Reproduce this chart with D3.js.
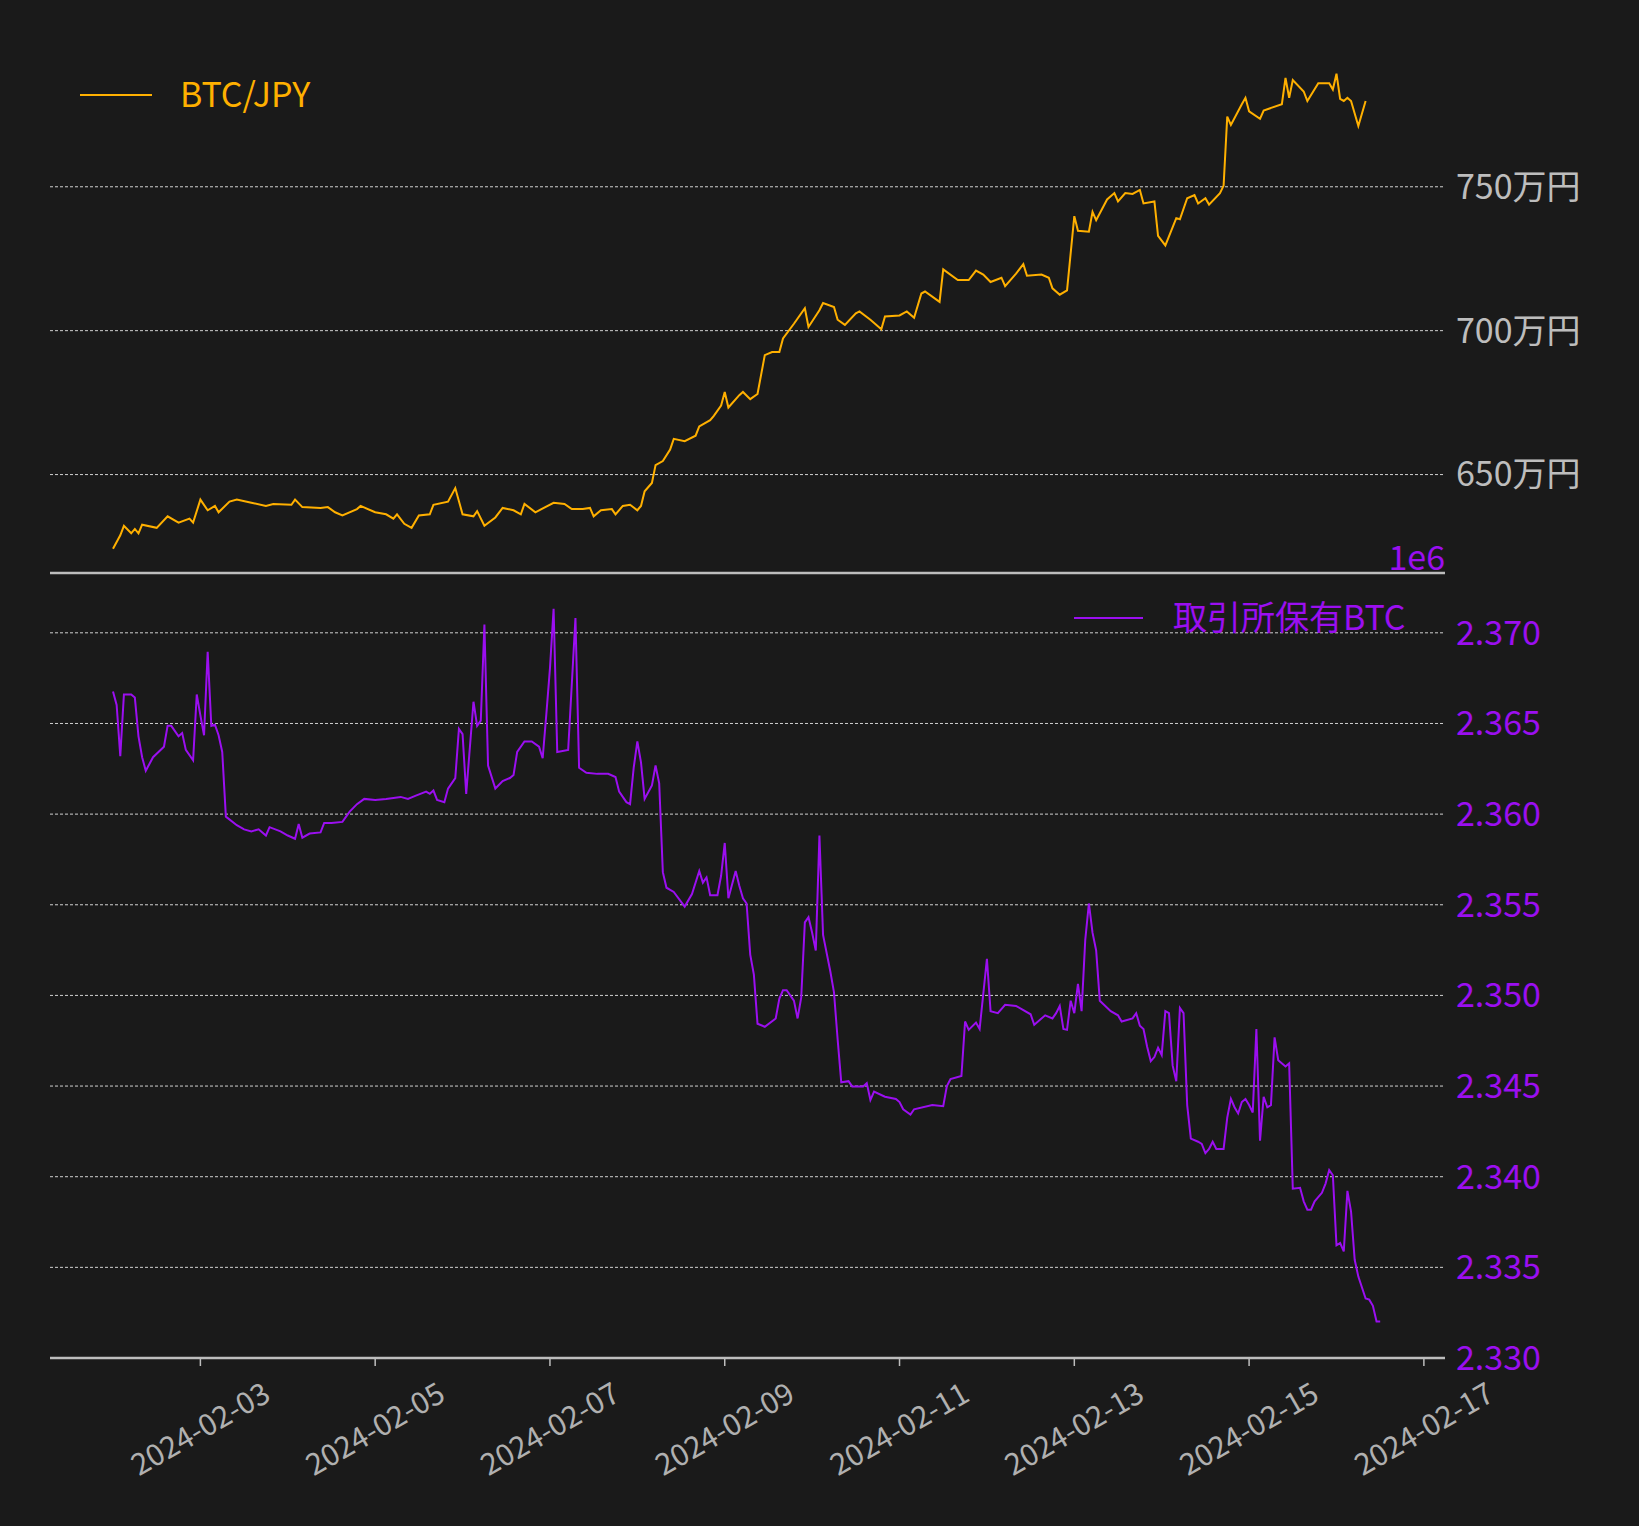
<!DOCTYPE html>
<html><head><meta charset="utf-8">
<script src="https://cdn.jsdelivr.net/npm/d3@7"></script>
<style>body{margin:0;background:#1a1a1a}</style>
</head><body>
<svg id="chart"></svg>
<script>
// hours since 2024-02-02 00:00 and values
const priceHours = [0,2,3,5,6,7,8,12,15,18,21,22,24,26,28,29,32,34,38,42,44,49,50,52,57,59,61,63,67,68,72,75,77,78,80,82,84,87,88,92,94,96,99,100,102,105,107,110,112,113,116,121,124,126,129,131,132,134,137,138,140,142,144,145,146,148,149,151,153,154,157,160,161,164,165,167,168,169,172,173,175,177,179,181,183,184,187,190,191,194,195,198,199,201,204,205,208,211,212,216,218,220,222,223,227,228,232,235,237,239,241,244,245,248,250,251,255,257,258,260,262,264,265,268,269,270,273,275,276,278,280,282,283,286,287,289,292,293,295,297,298,300,301,304,305,306,307,310,311,312,315,316,321,322,323,324,327,328,331,334,335,336,337,338,339,340,342,344];
const priceMan = [624.2,628.9,632.2,629.6,631.1,629.6,632.6,631.5,635.5,633.3,634.7,633.3,641.3,637.6,639.1,636.9,640.6,641.3,640.2,639.1,639.8,639.5,641.3,638.7,638.4,638.7,636.9,635.8,638.0,639.1,636.9,636.2,634.7,636.2,632.9,631.5,635.8,636.2,639.5,640.6,645.3,636.2,635.5,637.3,632.2,635.1,638.4,637.6,636.2,639.8,636.9,640.2,639.8,638.0,638.0,638.4,635.5,637.6,638.0,636.2,639.1,639.5,637.6,639.1,644.2,647.1,653.3,654.7,658.7,662.4,661.6,663.5,666.7,668.9,670.4,674.0,678.7,673.3,677.6,678.7,676.2,678.0,691.5,692.6,692.6,697.3,702.4,707.8,701.3,707.1,709.6,708.2,703.8,702.0,706.0,706.7,703.8,700.5,704.9,705.3,706.7,704.5,712.9,713.6,710.0,721.3,717.6,717.6,720.9,719.5,716.9,718.4,715.5,719.8,723.1,719.1,719.5,718.4,714.7,712.5,714.0,739.8,734.7,734.4,741.3,738.4,745.6,747.8,744.9,747.8,747.5,748.9,744.2,744.9,732.9,729.6,739.1,738.7,746.0,747.1,744.2,746.0,743.8,747.8,750.4,774.4,771.5,778.7,780.9,776.2,773.6,776.5,778.7,787.8,780.9,787.1,783.1,779.8,786.0,786.0,783.8,789.3,780.5,779.8,780.9,779.8,771.1,779.8];

const holdHours = [0,1,2,3,5,6,7,8,9,11,14,15,16,18,19,20,22,23,24,25,26,27,28,29,30,31,34,36,38,40,42,43,46,48,50,51,52,54,57,58,60,63,65,67,69,72,75,79,81,83,86,87,88,89,91,92,94,95,96,97,98,99,100,101,102,103,105,107,109,110,111,113,115,117,118,119,120,121,122,125,127,128,130,133,136,138,139,141,142,143,144,145,146,148,149,150,151,152,154,157,159,161,162,163,164,166,167,168,169,171,172,173,174,175,176,177,179,182,183,184,185,187,188,189,190,191,192,193,194,195,197,198,199,200,202,203,206,207,208,209,212,215,216,217,219,220,225,228,229,230,233,234,235,237,238,240,241,243,245,248,252,253,256,258,259,260,261,262,263,264,265,266,267,268,269,270,271,274,276,277,280,281,282,283,284,285,286,287,288,289,290,291,292,293,294,295,296,298,299,300,301,302,303,305,306,307,308,309,310,311,312,313,314,315,316,317,318,319,320,322,323,324,326,327,328,329,330,332,333,334,335,336,337,338,339,340,341,342,344,345,346,347,348];
const holdBtc = [2.36677,2.36602,2.36320,2.36660,2.36660,2.36643,2.36429,2.36314,2.36239,2.36314,2.36372,2.36487,2.36487,2.36429,2.36447,2.36354,2.36297,2.36660,2.36545,2.36435,2.36896,2.36487,2.36493,2.36435,2.36343,2.35986,2.35939,2.35916,2.35905,2.35916,2.35882,2.35928,2.35905,2.35882,2.35864,2.35945,2.35870,2.35893,2.35899,2.35951,2.35951,2.35957,2.36014,2.36055,2.36084,2.36078,2.36084,2.36095,2.36084,2.36101,2.36124,2.36112,2.36130,2.36078,2.36066,2.36141,2.36199,2.36470,2.36441,2.36112,2.36366,2.36620,2.36487,2.36516,2.37046,2.36268,2.36141,2.36182,2.36199,2.36216,2.36343,2.36401,2.36401,2.36372,2.36308,2.36550,2.36804,2.37133,2.36343,2.36354,2.37081,2.36256,2.36228,2.36222,2.36222,2.36205,2.36124,2.36066,2.36055,2.36256,2.36401,2.36285,2.36084,2.36158,2.36268,2.36170,2.35680,2.35594,2.35571,2.35490,2.35559,2.35686,2.35622,2.35651,2.35553,2.35553,2.35660,2.35841,2.35536,2.35686,2.35605,2.35536,2.35507,2.35225,2.35115,2.34844,2.34827,2.34873,2.34983,2.35029,2.35029,2.34971,2.34873,2.34988,2.35403,2.35432,2.35346,2.35248,2.35882,2.35334,2.35132,2.35017,2.34758,2.34521,2.34527,2.34498,2.34498,2.34516,2.34423,2.34470,2.34441,2.34429,2.34412,2.34372,2.34343,2.34372,2.34395,2.34389,2.34500,2.34539,2.34556,2.34856,2.34810,2.34850,2.34815,2.35202,2.34913,2.34902,2.34948,2.34942,2.34896,2.34838,2.34890,2.34873,2.34902,2.34942,2.34815,2.34810,2.34971,2.34902,2.35063,2.34913,2.35305,2.35507,2.35346,2.35248,2.34971,2.34913,2.34890,2.34856,2.34873,2.34902,2.34833,2.34815,2.34717,2.34637,2.34660,2.34712,2.34671,2.34913,2.34902,2.34614,2.34527,2.34931,2.34902,2.34395,2.34210,2.34193,2.34181,2.34130,2.34153,2.34193,2.34153,2.34153,2.34326,2.34429,2.34383,2.34349,2.34412,2.34429,2.34395,2.34354,2.34815,2.34199,2.34441,2.34383,2.34395,2.34769,2.34643,2.34608,2.34625,2.33934,2.33939,2.33864,2.33818,2.33818,2.33864,2.33911,2.33962,2.34037,2.34008,2.33622,2.33634,2.33588,2.33922,2.33807,2.33542,2.33449,2.33328,2.33322,2.33288,2.33201,2.33201];

const priceTicks = [650, 700, 750];
const holdTicks = [2.330, 2.335, 2.340, 2.345, 2.350, 2.355, 2.360, 2.365, 2.370];
const dateTicks = ["2024-02-03","2024-02-05","2024-02-07","2024-02-09","2024-02-11","2024-02-13","2024-02-15","2024-02-17"];

const width = 1639, height = 1526;
const left = 50, right = 1445;
const orange = "#ffb000", purple = "#9b0ff0", gray = "#bdbdbd";
const font = "'Noto Sans CJK JP', 'Noto Sans', sans-serif";

const start = new Date(2024, 1, 2);
const toDate = h => new Date(start.getTime() + h * 3600e3);

const x = d3.scaleTime()
    .domain([toDate(-17.3), toDate(365.8)])
    .range([left, right]);
const yTop = d3.scaleLinear().domain([615.8, 800.3]).range([573, 42]);
const yBot = d3.scaleLinear().domain([2.330, 2.3733]).range([1358, 573]);

const svg = d3.select("#chart").attr("width", width).attr("height", height)
    .style("background", "#1a1a1a").style("font-family", font);

// grid
const grid = (ticks, y) => svg.append("g").selectAll("line").data(ticks).enter().append("line")
    .attr("x1", left).attr("x2", right)
    .attr("y1", d => y(d)).attr("y2", d => y(d))
    .attr("stroke", "#d0d0d0").attr("stroke-width", 1).attr("stroke-dasharray", "3,2");
grid(priceTicks, yTop);
grid(holdTicks.slice(1), yBot);

// lines
const line = (y) => d3.line().x(d => x(toDate(d[0]))).y(d => y(d[1]));
svg.append("path").datum(d3.zip(priceHours, priceMan))
    .attr("d", line(yTop)).attr("fill", "none").attr("stroke", orange).attr("stroke-width", 2);
svg.append("path").datum(d3.zip(holdHours, holdBtc))
    .attr("d", line(yBot)).attr("fill", "none").attr("stroke", purple).attr("stroke-width", 2);

// spines
[573, 1358].forEach(yy => svg.append("line")
    .attr("x1", left).attr("x2", right).attr("y1", yy).attr("y2", yy)
    .attr("stroke", gray).attr("stroke-width", 2.5));

// y tick labels
svg.append("g").selectAll("text").data(priceTicks).enter().append("text")
    .attr("x", 1456).attr("y", d => yTop(d)).attr("dy", "0.35em")
    .attr("font-size", 34).attr("fill", gray).text(d => d + "万円");
svg.append("g").selectAll("text").data(holdTicks).enter().append("text")
    .attr("x", 1456).attr("y", d => yBot(d)).attr("dy", "0.35em")
    .attr("font-size", 34).attr("fill", purple).text(d => d3.format(".3f")(d));
svg.append("text").attr("x", right).attr("y", 570).attr("text-anchor", "end")
    .attr("font-size", 34).attr("fill", purple).text("1e6");

// x axis ticks
const parse = d3.timeParse("%Y-%m-%d");
const xt = svg.append("g").selectAll("g").data(dateTicks).enter().append("g");
xt.append("line").attr("x1", d => x(parse(d))).attr("x2", d => x(parse(d)))
    .attr("y1", 1358).attr("y2", 1366).attr("stroke", gray).attr("stroke-width", 1.5);
xt.append("text")
    .attr("transform", d => `translate(${x(parse(d))},1429) rotate(-30)`)
    .attr("text-anchor", "middle").attr("dy", "0.35em")
    .attr("font-size", 30).attr("fill", "#b0b0b0").text(d => d);

// legends
svg.append("line").attr("x1", 80).attr("x2", 152).attr("y1", 95).attr("y2", 95)
    .attr("stroke", orange).attr("stroke-width", 2);
svg.append("text").attr("x", 180).attr("y", 95).attr("dy", "0.35em")
    .attr("font-size", 34).attr("fill", orange).text("BTC/JPY");
svg.append("line").attr("x1", 1074).attr("x2", 1143).attr("y1", 618).attr("y2", 618)
    .attr("stroke", purple).attr("stroke-width", 2);
svg.append("text").attr("x", 1173).attr("y", 618).attr("dy", "0.35em")
    .attr("font-size", 34).attr("fill", purple).text("取引所保有BTC");
</script>
</body></html>
